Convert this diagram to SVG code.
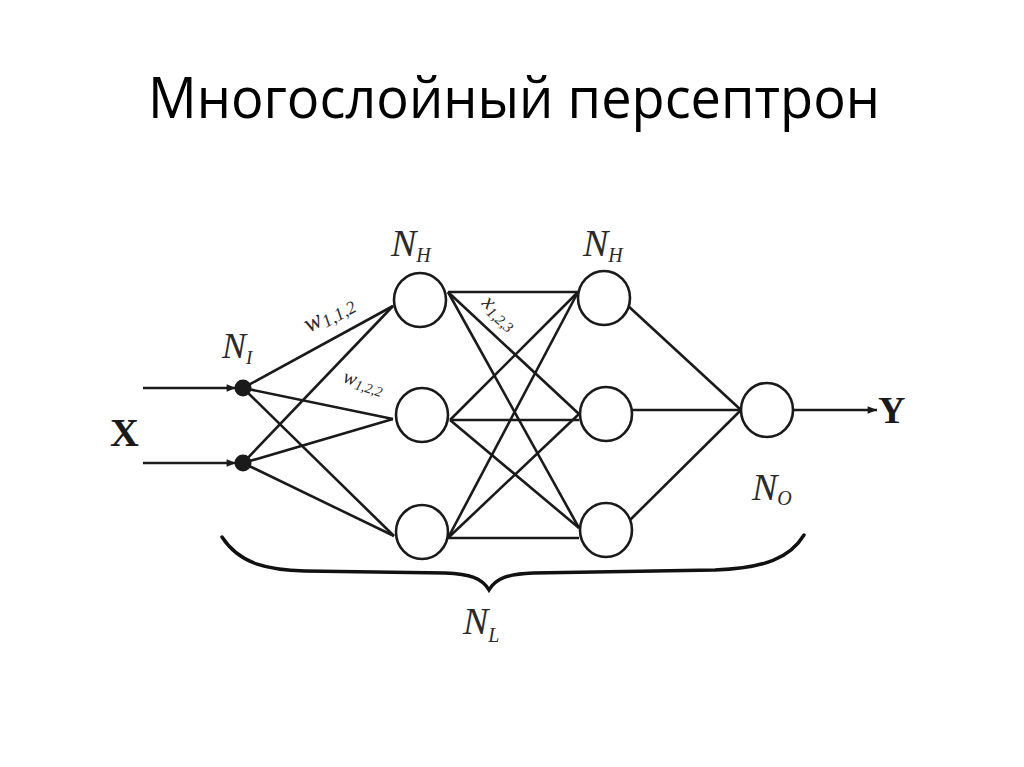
<svg xmlns="http://www.w3.org/2000/svg" width="1024" height="767" viewBox="0 0 1024 767">
<defs>
<marker id="arr" viewBox="0 0 10 10" refX="10" refY="5" markerWidth="6" markerHeight="3.6" markerUnits="strokeWidth" orient="auto">
<path d="M0,1 L10,5 L0,9 z" fill="#1a1a1a"/>
</marker>
<style>
.ln{stroke:#1a1a1a;stroke-width:2.6;fill:none}
.nd{stroke:#1a1a1a;stroke-width:2.6;fill:#fff}
.it{font-family:"Liberation Serif",serif;font-style:italic;fill:#2a2a2a}
.bd{font-family:"Liberation Serif",serif;font-weight:bold;fill:#1a1a1a}
</style>
</defs>
<rect width="1024" height="767" fill="#fff"/>
<text x="148" y="118" font-family="'Open Sans','Liberation Sans',sans-serif" font-size="56" textLength="732" lengthAdjust="spacingAndGlyphs" fill="#000">Многослойный персептрон</text>

<g id="connectors">
<line class="ln" x1="143" y1="388" x2="236" y2="388" marker-end="url(#arr)"/>
<line class="ln" x1="143" y1="463" x2="236" y2="463" marker-end="url(#arr)"/>
<line class="ln" x1="243" y1="388" x2="393" y2="306"/>
<line class="ln" x1="243" y1="388" x2="393" y2="419"/>
<line class="ln" x1="243" y1="388" x2="394" y2="536"/>
<line class="ln" x1="243" y1="463" x2="393" y2="306"/>
<line class="ln" x1="243" y1="463" x2="393" y2="419"/>
<line class="ln" x1="243" y1="463" x2="394" y2="536"/>
<line class="ln" x1="448" y1="292" x2="578" y2="292"/>
<line class="ln" x1="448" y1="292" x2="579" y2="414"/>
<line class="ln" x1="448" y1="292" x2="579" y2="528"/>
<line class="ln" x1="450" y1="420" x2="578" y2="292"/>
<line class="ln" x1="450" y1="420" x2="579" y2="420"/>
<line class="ln" x1="450" y1="420" x2="579" y2="528"/>
<line class="ln" x1="448" y1="538" x2="578" y2="292"/>
<line class="ln" x1="448" y1="538" x2="579" y2="414"/>
<line class="ln" x1="448" y1="538" x2="579" y2="538"/>
<line class="ln" x1="626" y1="304" x2="741" y2="410"/>
<line class="ln" x1="632" y1="410" x2="741" y2="410"/>
<line class="ln" x1="628" y1="522" x2="741" y2="410"/>
<line class="ln" x1="793" y1="410" x2="877" y2="410" marker-end="url(#arr)"/>
</g>

<g id="input1"><circle cx="243" cy="388" r="8.5" fill="#1a1a1a"/></g>
<g id="input2"><circle cx="243" cy="463" r="8.5" fill="#1a1a1a"/></g>
<g id="h1a"><ellipse class="nd" cx="420" cy="300" rx="26" ry="27"/></g>
<g id="h1b"><ellipse class="nd" cx="422" cy="415" rx="26" ry="27"/></g>
<g id="h1c"><ellipse class="nd" cx="422" cy="532" rx="26" ry="27"/></g>
<g id="h2a"><ellipse class="nd" cx="604" cy="298" rx="26" ry="27"/></g>
<g id="h2b"><ellipse class="nd" cx="606" cy="414" rx="26" ry="27"/></g>
<g id="h2c"><ellipse class="nd" cx="606" cy="530" rx="26" ry="27"/></g>
<g id="out"><ellipse class="nd" cx="767" cy="410" rx="26" ry="27"/></g>

<g id="labels">
<text class="bd" x="110" y="446" font-size="40">X</text>
<text class="bd" x="878" y="423" font-size="38">Y</text>
<text class="it" x="222" y="358" font-size="36">N<tspan font-size="19" dy="6">I</tspan></text>
<text class="it" x="391" y="256" font-size="38">N<tspan font-size="20" dy="6">H</tspan></text>
<text class="it" x="583" y="256" font-size="38">N<tspan font-size="20" dy="6">H</tspan></text>
<text class="it" x="752" y="500" font-size="38">N<tspan font-size="20" dy="5">O</tspan></text>
<text class="it" x="463" y="634" font-size="38">N<tspan font-size="20" dy="8">L</tspan></text>
<text class="it" transform="translate(309,333) rotate(-29)" font-size="26">w<tspan font-size="18" dy="4">1,1,2</tspan></text>
<text class="it" transform="translate(342,382) rotate(17)" font-size="20">w<tspan font-size="14" dy="3">1,2,2</tspan></text>
<text class="it" transform="translate(481,304) rotate(42)" font-size="22">x<tspan font-size="15" dy="4">1,2,3</tspan></text>
</g>

<g id="brace">
<path d="M222,537 C240,565 270,570 305,571 L445,573 C470,574 482,578 489,590 C496,578 508,574 533,573 L715,570 C765,568 790,558 804,535" fill="none" stroke="#111" stroke-width="3.4" stroke-linecap="round"/>
</g>
</svg>
